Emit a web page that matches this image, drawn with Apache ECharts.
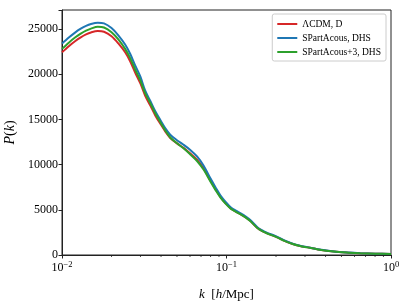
<!DOCTYPE html>
<html><head><meta charset="utf-8">
<script src="https://cdn.jsdelivr.net/npm/echarts@6/dist/echarts.min.js"></script>
<style>html,body{margin:0;padding:0;background:#fff}#c{width:407px;height:301px}</style>
</head><body><div id="c"></div>
<script>
var kValues = [0.010,0.011,0.012,0.013,0.014,0.015,0.0165,0.018,0.020,0.022,0.0242,0.026,0.0278,0.030,0.032,0.0345,0.0369,0.040,0.0425,0.0455,0.050,0.0548,0.060,0.0662,0.0725,0.080,0.086,0.092,0.099,0.106,0.114,0.122,0.131,0.140,0.154,0.165,0.177,0.19,0.205,0.223,0.25,0.28,0.31,0.36,0.45,0.55,0.65,0.8,1.0];
var lcdm = [22420,23100,23650,24080,24400,24620,24780,24700,24200,23400,22420,21400,20210,18950,17640,16500,15440,14400,13650,12950,12350,11850,11250,10550,9600,8200,7250,6400,5700,5150,4800,4500,4150,3750,3000,2650,2390,2180,1930,1600,1250,1000,850,620,380,260,190,140,110];
var spartacous = [23380,24050,24600,25030,25350,25560,25700,25620,25100,24300,23280,22230,21000,19700,18200,17000,15900,14800,14000,13300,12700,12200,11650,10900,9900,8450,7450,6570,5850,5280,4900,4600,4250,3850,3080,2720,2450,2240,1980,1650,1290,1030,870,640,390,265,195,145,112];
var spartacous3 = [22800,23490,24050,24480,24810,25040,25250,25170,24650,23850,22800,21750,20550,19250,17900,16750,15650,14550,13750,13000,12350,11800,11150,10400,9450,8100,7150,6340,5650,5130,4780,4490,4140,3740,2990,2640,2380,2170,1920,1590,1240,995,845,615,378,258,188,139,109];
var seriesNames = ['\u039bCDM, D','SPartAcous, DHS','SPartAcous+3, DHS'];
var yTicks = [0,5000,10000,15000,20000,25000];
var xMinorTicks = [0.02,0.03,0.04,0.05,0.06,0.07,0.08,0.09,0.2,0.3,0.4,0.5,0.6,0.7,0.8,0.9];

var font = 'Liberation Serif';
function pairs(v){ return kValues.map(function(k,i){ return [k, v[i]]; }); }
var chart = echarts.init(document.getElementById('c'), null, {renderer:'canvas'});
function mk(name, data, color){
  return {type:'line', name:name, data:pairs(data), smooth:0.3, symbol:'none', showSymbol:false,
    lineStyle:{color:color, width:2}, itemStyle:{color:color}, z:3};
}
chart.setOption({
  animation:false,
  textStyle:{fontFamily:font},
  grid:{left:62, right:16, top:10, bottom:46, show:true, borderColor:'#222', borderWidth:1, containLabel:false, outerBoundsMode:'none'},
  legend:{
    orient:'vertical', right:21, top:14, padding:[5,5,4,5],
    backgroundColor:'rgba(255,255,255,0.8)', borderColor:'#ccc', borderWidth:1, borderRadius:2,
    itemWidth:20, itemHeight:10, itemGap:4,
    textStyle:{fontFamily:font, fontSize:9.5, color:'#000'},
    data:seriesNames.map(function(n){return {name:n, icon:'path://M0,0L20,0L20,2L0,2Z'};})
  },
  xAxis:{
    type:'log', logBase:10, min:0.01, max:1,
    name:'{i|k}  [{i|h}/Mpc]', nameLocation:'middle', nameGap:33,
    nameTextStyle:{fontFamily:font, fontSize:13, color:'#000', rich:{i:{fontStyle:'italic', fontFamily:font, fontSize:13}}},
    axisLine:{show:true, onZero:false, lineStyle:{color:'#222', width:1}},
    axisTick:{show:true, inside:false, length:3.5, lineStyle:{color:'#222'}},
    splitLine:{show:false},
    axisLabel:{margin:5, color:'#000', fontFamily:font,
      formatter:function(v){ var e = Math.round(Math.log10(v)); var s = String(e).replace('-','\u2212'); return '{b|10}{s|'+s+'}'; },
      rich:{b:{fontSize:12, fontFamily:font, color:'#000'}, s:{fontSize:8.5, fontFamily:font, color:'#000', verticalAlign:'top', padding:[0,0,6,0]}}}
  },
  yAxis:{
    type:'value', min:0, max:27100, interval:5000,
    name:'{i|P}({i|k})', nameLocation:'middle', nameGap:42, nameRotate:90,
    nameTextStyle:{fontFamily:font, fontSize:14, color:'#000', rich:{i:{fontStyle:'italic', fontFamily:font, fontSize:14}}},
    axisLine:{show:true, lineStyle:{color:'#222', width:1}},
    axisTick:{show:true, length:3.5, lineStyle:{color:'#222'}},
    splitLine:{show:false},
    axisLabel:{margin:4, color:'#000', fontFamily:font, fontSize:12,
      formatter:function(v){ return yTicks.indexOf(v)>=0 ? String(v) : ''; }}
  },
  series:[
    mk(seriesNames[0], lcdm, '#d62728'),
    mk(seriesNames[1], spartacous, '#1f77b4'),
    mk(seriesNames[2], spartacous3, '#2ca02c'),
    {type:'custom', name:'minor', silent:true, z:5, clip:false, legendHoverLink:false,
      data:xMinorTicks.map(function(k){return [k,0];}),
      renderItem:function(params, api){
        var p = api.coord([api.value(0), 0]);
        return {type:'line', shape:{x1:p[0], y1:p[1], x2:p[0], y2:p[1]+2}, style:{stroke:'#222', lineWidth:0.8}};
      }}
  ]
});
</script></body></html>
